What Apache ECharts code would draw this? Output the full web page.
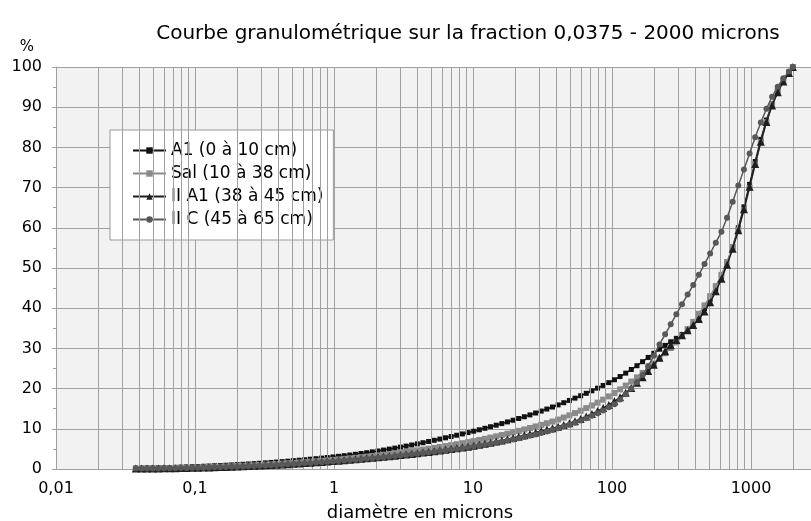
<!DOCTYPE html>
<html>
<head>
<meta charset="utf-8">
<script src="https://cdn.jsdelivr.net/npm/echarts@6/dist/echarts.min.js"></script>
<style>
  html, body { margin: 0; padding: 0; background: #ffffff; }
  #chart { width: 811px; height: 521px; }
</style>
</head>
<body>
<div id="chart"></div>
<script>
// Diamètres des classes granulométriques (µm)
const diametres = [
  0.0375, 0.0412, 0.0452, 0.0496, 0.0545, 0.0598, 0.0657, 0.0721, 0.0791, 0.0869,
  0.0954, 0.105, 0.115, 0.126, 0.138, 0.152, 0.167, 0.183, 0.201, 0.221,
  0.242, 0.266, 0.292, 0.321, 0.352, 0.386, 0.424, 0.466, 0.511, 0.561,
  0.616, 0.676, 0.742, 0.815, 0.894, 0.982, 1.078, 1.183, 1.299, 1.426,
  1.565, 1.718, 1.886, 2.071, 2.273, 2.496, 2.740, 3.007, 3.301, 3.624,
  3.978, 4.367, 4.794, 5.262, 5.777, 6.341, 6.961, 7.642, 8.389, 9.209,
  10.11, 11.10, 12.18, 13.37, 14.68, 16.12, 17.69, 19.42, 21.32, 23.41,
  25.69, 28.21, 30.96, 33.99, 37.31, 40.96, 44.97, 49.36, 54.19, 59.49,
  65.30, 71.69, 78.69, 86.39, 94.84, 104.1, 114.3, 125.5, 137.7, 151.2,
  166.0, 182.2, 200.0, 219.6, 241.1, 264.6, 290.5, 318.9, 350.1, 384.3,
  421.9, 463.1, 508.4, 558.1, 612.7, 672.6, 738.4, 810.5, 889.8, 976.8,
  1072, 1177, 1292, 1418, 1557, 1709, 1876, 2000
];

// Pourcentages cumulés par horizon
const a1 = [
  0.20, 0.22, 0.25, 0.28, 0.31, 0.34, 0.38, 0.42, 0.47, 0.52,
  0.57, 0.62, 0.68, 0.74, 0.80, 0.87, 0.94, 1.01, 1.09, 1.17,
  1.25, 1.34, 1.43, 1.53, 1.63, 1.73, 1.84, 1.95, 2.07, 2.19,
  2.31, 2.44, 2.57, 2.71, 2.85, 3.00, 3.15, 3.31, 3.48, 3.66,
  3.85, 4.05, 4.26, 4.48, 4.71, 4.95, 5.19, 5.44, 5.70, 5.97,
  6.25, 6.54, 6.84, 7.14, 7.45, 7.76, 8.08, 8.40, 8.73, 9.06,
  9.40, 9.76, 10.13, 10.51, 10.90, 11.30, 11.71, 12.13, 12.56, 13.00,
  13.46, 13.93, 14.41, 14.91, 15.42, 15.95, 16.49, 17.05, 17.63, 18.22,
  18.83, 19.46, 20.11, 20.78, 21.48, 22.20, 23.00, 23.85, 24.75, 25.70,
  26.70, 27.75, 28.80, 29.80, 30.75, 31.65, 32.50, 33.45, 34.60, 36.00,
  37.80, 39.90, 42.20, 44.80, 47.80, 51.30, 55.30, 60.00, 65.20, 70.80,
  76.50, 82.00, 86.80, 90.80, 94.00, 96.60, 98.60, 100
];

const sal = [
  0.10, 0.11, 0.13, 0.15, 0.17, 0.19, 0.21, 0.24, 0.27, 0.30,
  0.34, 0.38, 0.42, 0.47, 0.52, 0.57, 0.62, 0.68, 0.74, 0.80,
  0.87, 0.94, 1.01, 1.09, 1.17, 1.25, 1.34, 1.43, 1.52, 1.62,
  1.72, 1.82, 1.93, 2.04, 2.15, 2.27, 2.39, 2.52, 2.65, 2.79,
  2.93, 3.08, 3.23, 3.39, 3.55, 3.72, 3.89, 4.07, 4.25, 4.44,
  4.63, 4.83, 5.04, 5.25, 5.47, 5.70, 5.93, 6.17, 6.42, 6.68,
  6.95, 7.23, 7.52, 7.82, 8.13, 8.45, 8.78, 9.12, 9.47, 9.83,
  10.20, 10.58, 10.97, 11.38, 11.80, 12.30, 12.80, 13.35, 13.90, 14.50,
  15.15, 15.80, 16.50, 17.25, 18.05, 18.90, 19.80, 20.75, 21.75, 22.80,
  23.90, 25.05, 26.25, 27.50, 28.80, 30.10, 31.50, 33.10, 34.80, 36.60,
  38.60, 40.70, 43.00, 45.50, 48.30, 51.50, 55.20, 59.50, 64.40, 69.90,
  75.70, 81.30, 86.30, 90.60, 94.00, 96.70, 98.70, 100
];

const iiA1 = [
  0.10, 0.11, 0.12, 0.14, 0.15, 0.17, 0.19, 0.21, 0.23, 0.26,
  0.29, 0.32, 0.35, 0.39, 0.43, 0.47, 0.51, 0.56, 0.61, 0.66,
  0.72, 0.78, 0.84, 0.91, 0.98, 1.05, 1.13, 1.21, 1.29, 1.38,
  1.47, 1.56, 1.66, 1.76, 1.86, 1.96, 2.07, 2.18, 2.29, 2.41,
  2.53, 2.65, 2.78, 2.91, 3.04, 3.18, 3.32, 3.46, 3.61, 3.76,
  3.92, 4.08, 4.25, 4.42, 4.60, 4.78, 4.97, 5.16, 5.36, 5.56,
  5.77, 6.02, 6.28, 6.55, 6.83, 7.12, 7.42, 7.73, 8.05, 8.38,
  8.72, 9.07, 9.45, 9.80, 10.15, 10.50, 10.95, 11.40, 11.90, 12.45,
  13.05, 13.70, 14.40, 15.15, 15.95, 16.85, 17.85, 18.95, 20.15, 21.45,
  22.85, 24.35, 25.95, 27.65, 29.30, 30.80, 32.10, 33.30, 34.50, 35.80,
  37.30, 39.20, 41.50, 44.20, 47.30, 50.80, 54.80, 59.40, 64.60, 70.20,
  75.90, 81.40, 86.30, 90.40, 93.70, 96.40, 98.50, 100
];

const iiC = [
  0.10, 0.11, 0.12, 0.13, 0.15, 0.16, 0.18, 0.20, 0.22, 0.25,
  0.28, 0.31, 0.34, 0.37, 0.41, 0.45, 0.49, 0.54, 0.59, 0.64,
  0.69, 0.75, 0.81, 0.87, 0.94, 1.01, 1.08, 1.16, 1.24, 1.32,
  1.41, 1.50, 1.59, 1.69, 1.79, 1.89, 1.99, 2.10, 2.21, 2.32,
  2.44, 2.56, 2.68, 2.81, 2.94, 3.07, 3.21, 3.35, 3.49, 3.64,
  3.79, 3.95, 4.11, 4.28, 4.45, 4.63, 4.81, 5.00, 5.19, 5.39,
  5.60, 5.82, 6.05, 6.29, 6.54, 6.80, 7.07, 7.35, 7.64, 7.94,
  8.26, 8.59, 8.94, 9.31, 9.70, 10.11, 10.55, 11.02, 11.52, 12.05,
  12.62, 13.23, 13.88, 14.58, 15.33, 16.13, 17.30, 18.60, 20.00, 21.60,
  23.40, 25.60, 28.20, 31.00, 33.50, 36.00, 38.50, 41.00, 43.40, 45.80,
  48.30, 51.00, 53.60, 56.30, 59.00, 62.50, 66.50, 70.50, 74.50, 78.50,
  82.50, 86.20, 89.60, 92.60, 95.10, 97.20, 98.90, 100
];

const nomsSeries = ['A1 (0 à 10 cm)', 'Sal (10 à 38 cm)', 'II A1 (38 à 45 cm)', 'II C (45 à 65 cm)'];

// Subdivisions logarithmiques (2..9 de chaque décade) pour le quadrillage secondaire
const decades = [0.01, 0.1, 1, 10, 100, 1000];
const grilleSecondaire = [];
decades.forEach(function (d) {
  for (let m = 2; m <= 9; m++) grilleSecondaire.push({ xAxis: +(m * d).toPrecision(6) });
});

const police = '"DejaVu Sans", Verdana, sans-serif';
const gris = '#a0a0a0';

function paires(ys) {
  return diametres.map(function (x, i) { return [x, ys[i]]; });
}

function serie(nom, ys, couleur, symbole, taille, z) {
  return {
    name: nom,
    type: 'line',
    data: paires(ys),
    symbol: symbole,
    symbolSize: taille,
    showSymbol: true,
    z: z,
    lineStyle: { color: couleur, width: 1.5 },
    itemStyle: { color: couleur },
    emphasis: { disabled: true },
    animation: false
  };
}

const chart = echarts.init(document.getElementById('chart'), null, { renderer: 'canvas' });

chart.setOption({
  animation: false,
  backgroundColor: '#ffffff',
  title: [
    {
      text: 'Courbe granulométrique sur la fraction 0,0375 - 2000 microns',
      left: 463, top: 19, textAlign: 'center',
      textStyle: { fontFamily: police, fontSize: 20, fontWeight: 'normal', color: '#000' }
    },
    {
      text: '%',
      left: 22, top: 35, textAlign: 'center',
      textStyle: { fontFamily: police, fontSize: 15, fontWeight: 'normal', color: '#000' }
    },
    {
      text: 'diamètre en microns',
      left: 415, top: 499, textAlign: 'center',
      textStyle: { fontFamily: police, fontSize: 18, fontWeight: 'normal', color: '#000' }
    }
  ],
  legend: {
    orient: 'vertical',
    left: 110, top: 130,
    padding: [12, 10, 12, 22],
    itemWidth: 33, itemHeight: 8, itemGap: 6,
    backgroundColor: '#ffffff',
    borderColor: '#9a9a9a', borderWidth: 1,
    textStyle: { fontFamily: police, fontSize: 17, color: '#000' },
    data: nomsSeries
  },
  grid: {
    left: 56, top: 67, width: 834, height: 402,
    outerBoundsMode: 'none',
    containLabel: false,
    show: true, backgroundColor: '#f2f2f2', borderWidth: 0
  },
  xAxis: {
    type: 'log', logBase: 10, min: 0.01, max: 10000,
    axisLine: { show: true, lineStyle: { color: gris } },
    axisTick: { show: false },
    splitLine: { show: true, lineStyle: { color: gris, width: 1 } },
    axisLabel: {
      fontFamily: police, fontSize: 16, color: '#000', margin: 12,
      formatter: function (v) { return String(+(+v).toPrecision(6)).replace('.', ','); }
    }
  },
  yAxis: {
    type: 'value', min: 0, max: 100, interval: 10,
    axisLine: { show: true, lineStyle: { color: gris } },
    axisTick: { show: true, length: 4, lineStyle: { color: gris } },
    minorTick: { show: true, splitNumber: 2, length: 3, lineStyle: { color: gris } },
    splitLine: { show: true, lineStyle: { color: gris, width: 1 } },
    axisLabel: { fontFamily: police, fontSize: 16, color: '#000', margin: 14 }
  },
  series: [
    {
      name: 'grille',
      type: 'line',
      data: [],
      silent: true,
      z: 1,
      markLine: {
        silent: true,
        symbol: ['none', 'none'],
        label: { show: false },
        lineStyle: { color: gris, width: 1, type: 'solid' },
        emphasis: { disabled: true },
        animation: false,
        data: grilleSecondaire
      }
    },
    serie(nomsSeries[0], a1, '#111111', 'rect', 5, 3),
    serie(nomsSeries[1], sal, '#8a8a8a', 'rect', 6, 4),
    serie(nomsSeries[2], iiA1, '#1e1e1e', 'triangle', 8, 5),
    serie(nomsSeries[3], iiC, '#585858', 'circle', 6, 6)
  ]
});
</script>
</body>
</html>
